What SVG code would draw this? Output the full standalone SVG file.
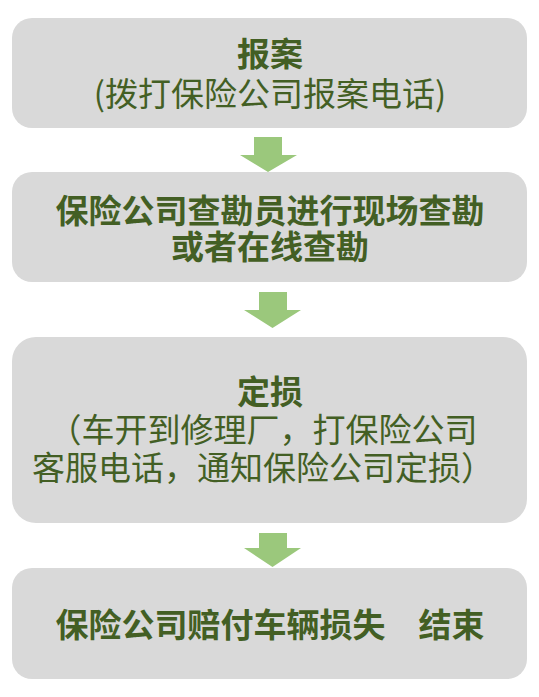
<svg xmlns="http://www.w3.org/2000/svg" width="539" height="697" viewBox="0 0 539 697">
<style>
.box{fill:#d9d9d9;}
.arrow{fill:#9bc87c;}
text{font-family:"Noto Sans CJK SC","Microsoft YaHei",sans-serif;font-size:33px;fill:#435f24;text-anchor:middle;}
.b{font-weight:bold;}
</style>
<rect width="539" height="697" fill="#ffffff"/>
<g id="connectors">
<polygon class="arrow" points="254,137 282,137 282,155 297,155 268,172 240,155 254,155"/>
<polygon class="arrow" points="259,292 287,292 287,310 301,310 272.5,328 244,310 259,310"/>
<polygon class="arrow" points="259,533 287,533 287,548 301,548 272.5,567 244,548 259,548"/>
</g>
<g id="node1">
<rect class="box" x="12" y="18" width="515" height="110" rx="20"/>
<text class="b" x="270" y="66">报案</text>
<text x="270" y="106">(拨打保险公司报案电话)</text>
</g>
<g id="node2">
<rect class="box" x="12" y="172" width="515" height="110" rx="20"/>
<text class="b" x="270" y="223">保险公司查勘员进行现场查勘</text>
<text class="b" x="270" y="259">或者在线查勘</text>
</g>
<g id="node3">
<rect class="box" x="12" y="337" width="515" height="186" rx="24"/>
<text class="b" x="270" y="404">定损</text>
<text x="263" y="442">（车开到修理厂，打保险公司</text>
<text x="263" y="480">客服电话，通知保险公司定损）</text>
</g>
<g id="node4">
<rect class="box" x="12" y="568" width="515" height="111" rx="20"/>
<text class="b" x="270" y="637">保险公司赔付车辆损失　结束</text>
</g>
</svg>
